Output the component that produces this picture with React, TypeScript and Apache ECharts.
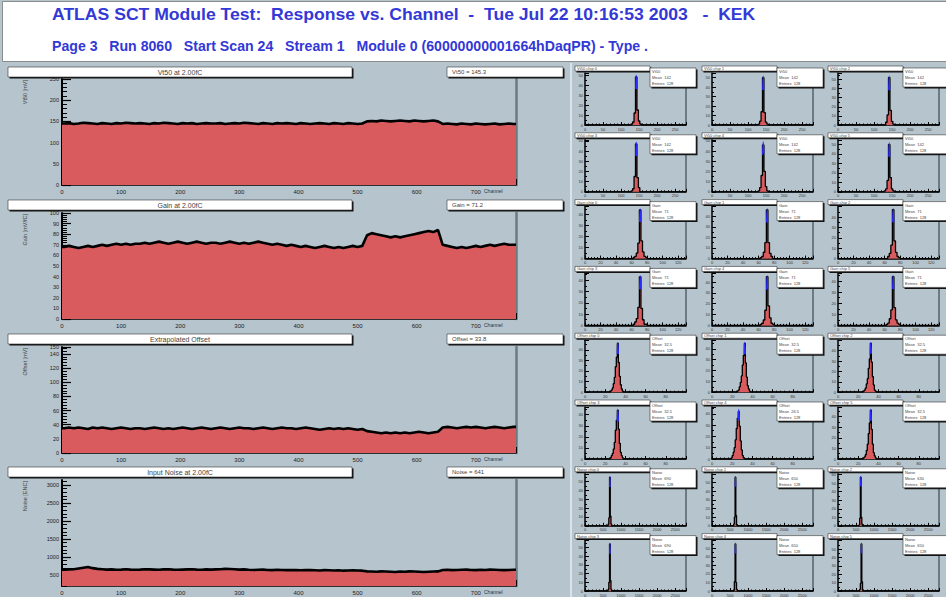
import React, { useEffect, useRef } from 'react';
import * as echarts from 'echarts';

// ---------------- data ----------------
const channelStep = 8; // each value covers 8 channels
const totalChannels = 768;

const vt50Values = [
  145,146,144,145,147,146,145,144,146,145,144,146,145,147,146,145,
  146,145,144,146,145,147,146,145,144,146,145,146,144,145,146,145,
  145,146,144,145,146,145,147,146,145,144,146,145,144,146,145,146,
  145,144,146,145,144,145,146,145,144,146,145,144,146,145,144,145,
  150,151,150,152,151,150,151,152,151,150,152,151,150,151,152,150,
  144,145,144,143,145,144,143,145,144,143,144,145,143,144,145,144,
];
const gainValues = [
  68,69,68,67,68,69,68,69,70,69,70,71,70,71,70,71,
  71,72,71,72,73,72,71,72,73,72,71,72,73,72,71,72,
  72,71,72,73,72,71,72,71,72,73,72,71,70,71,70,69,
  70,69,68,69,68,67,68,69,68,67,68,67,68,69,68,69,
  79,81,80,79,78,77,78,77,78,79,80,81,82,83,82,84,
  70,69,68,67,68,67,68,69,68,69,70,69,70,71,70,70,
];
const offsetValues = [
  35,36,35,36,35,34,36,35,36,35,34,35,36,35,34,35,
  35,34,35,36,35,34,35,34,35,36,35,34,35,36,35,34,
  35,36,35,34,35,36,35,35,34,35,36,35,34,35,36,35,
  35,34,35,36,35,34,33,34,35,34,35,34,35,34,33,34,
  31,30,29,28,29,28,29,28,29,28,29,30,29,28,29,30,
  36,37,36,35,36,37,36,37,36,35,36,37,36,35,36,37,
];
const noiseValues = [
  650,655,660,680,700,720,690,670,660,650,655,645,650,660,650,645,
  650,660,655,650,645,655,660,650,645,650,655,660,650,645,655,650,
  655,660,670,665,660,650,655,645,640,645,650,640,635,645,640,635,
  640,635,630,640,635,630,625,635,630,625,630,620,625,630,625,620,
  600,595,590,600,595,590,585,595,590,600,595,590,585,590,595,600,
  640,645,635,640,645,650,640,635,645,640,650,645,640,635,640,645,
];
const noiseTickLabels = [500, 1000, 1500, 2000, 2500, 3000];

// per-chip distributions (small panels)
const vt50HistStart = [124, 124, 124, 124, 124, 124];
const vt50Hist = [
  [0,1,3,12,48,15,4,1,0],
  [0,1,4,14,50,13,3,1,0],
  [0,0,3,11,52,16,4,1,0],
  [0,1,3,15,47,14,4,0,0],
  [0,1,4,16,46,20,5,1,0],
  [0,1,3,12,50,15,3,1,0],
];
const vt50Fit = [
  [[140.6,36],[142,50],[143.4,36]],
  [[140.6,37],[142,52],[143.4,37]],
  [[140.6,38],[142,54],[143.4,38]],
  [[140.6,35],[142,49],[143.4,35]],
  [[140.4,36],[142,49],[143.6,38]],
  [[140.6,37],[142,52],[143.4,37]],
];
const gainHistStart = [60, 60, 60, 60, 60, 60];
const gainHist = [
  [0,1,2,5,14,44,16,6,2,1,0],
  [0,1,2,6,15,46,15,5,2,0,0],
  [0,0,2,5,13,47,17,6,2,1,0],
  [0,1,3,6,16,43,15,5,1,1,0],
  [0,1,2,5,14,45,18,7,2,1,0],
  [0,1,2,6,14,44,16,5,2,1,0],
];
const gainFit = [
  [[70.3,33],[71,45],[71.7,33]],
  [[70.3,34],[71,47],[71.7,34]],
  [[70.3,35],[71,48],[71.7,35]],
  [[70.3,32],[71,44],[71.7,32]],
  [[70.3,33],[71,46],[71.7,34]],
  [[70.3,33],[71,45],[71.7,33]],
];
const offsetHistStart = [24, 24, 24, 24, 18, 24];
const offsetHist = [
  [0,1,2,4,8,14,24,33,46,28,15,7,3,1,0],
  [0,1,2,5,9,15,25,34,45,27,14,6,3,1,0],
  [0,1,2,4,8,13,23,32,47,29,15,7,2,1,0],
  [0,1,3,5,9,15,26,35,44,27,14,6,3,1,0],
  [0,1,3,6,10,17,27,36,42,29,16,8,3,1,0],
  [0,1,2,4,8,14,24,34,46,28,14,6,3,1,0],
];
const offsetFit = [
  [[31.9,36],[32.5,47],[33.1,36]],
  [[31.9,35],[32.5,46],[33.1,35]],
  [[31.9,37],[32.5,48],[33.1,37]],
  [[31.9,34],[32.5,45],[33.1,34]],
  [[25.9,34],[26.5,44],[27.1,34]],
  [[31.9,36],[32.5,47],[33.1,36]],
];
const noiseHistStart = [620, 580, 560, 620, 580, 580];
const noiseHist = [
  [0,2,9,55,11,2,0],
  [0,2,10,56,12,1,0],
  [0,1,9,57,10,2,0],
  [0,2,10,54,12,2,0],
  [0,1,11,55,10,2,0],
  [0,2,9,56,11,1,0],
];
const noiseFit = [
  [[684,44],[690,56],[696,44]],
  [[644,45],[650,57],[656,45]],
  [[624,46],[630,58],[636,46]],
  [[684,43],[690,55],[696,43]],
  [[644,44],[650,56],[656,44]],
  [[644,45],[650,57],[656,45]],
];

// ---------------- layout / style ----------------
const FONT = 'Liberation Sans, Arial, sans-serif';
const BG = '#b5c4cd';
const RED = '#d95b5e';
const TITLE_BLUE = '#3338d6';

const headerLine1 = 'ATLAS SCT Module Test:  Response vs. Channel  -  Tue Jul 22 10:16:53 2003   -  KEK';
const headerLine2 = 'Page 3   Run 8060   Start Scan 24   Stream 1   Module 0 (60000000001664hDaqPR) - Type .';

const bigTops = [79, 213, 347, 480];
const bigBoxY = [67, 200, 334, 467];
const smallLefts = [585, 712, 838];
const smallTop0 = 73;
const smallPitch = 66.8;

const bigPanels = [
  { title: 'Vt50 at 2.00fC', stat: 'Vt50 = 145.3', yName: 'Vt50 [mV]', values: vt50Values, min: 0, max: 250, interval: 50 },
  { title: 'Gain at 2.00fC', stat: 'Gain = 71.2', yName: 'Gain [mV/fC]', values: gainValues, min: 0, max: 100, interval: 10 },
  { title: 'Extrapolated Offset', stat: 'Offset = 33.8', yName: 'Offset [mV]', values: offsetValues, min: 0, max: 150, interval: 20 },
  { title: 'Input Noise at 2.00fC', stat: 'Noise = 641', yName: 'Noise [ENC]', values: noiseValues, min: 194, max: 3140, interval: 0 },
];

const smallGroups = [
  { name: 'Vt50', start: vt50HistStart, hist: vt50Hist, fit: vt50Fit, bin: 4, min: 0, max: 280, interval: 50 },
  { name: 'Gain', start: gainHistStart, hist: gainHist, fit: gainFit, bin: 2, min: 0, max: 130, interval: 20 },
  { name: 'Offset', start: offsetHistStart, hist: offsetHist, fit: offsetFit, bin: 1, min: 0, max: 100, interval: 20 },
  { name: 'Noise', start: noiseHistStart, hist: noiseHist, fit: noiseFit, bin: 20, min: 0, max: 2800, interval: 500 },
];

const plain = (v: number) => String(v);

function paveBox(x: number, y: number, w: number, h: number, z = 20) {
  return [
    { type: 'rect', z, shape: { x: x + 1.5, y: y + 1.5, width: w, height: h }, style: { fill: '#111' } },
    { type: 'rect', z: z + 1, shape: { x, y, width: w, height: h }, style: { fill: '#fff', stroke: '#333', lineWidth: 0.6 } },
  ];
}

function buildOption() {
  const grid: any[] = [];
  const xAxis: any[] = [];
  const yAxis: any[] = [];
  const series: any[] = [];
  const graphic: any[] = [];

  // background
  graphic.push({ type: 'rect', z: -10, silent: true, shape: { x: 0, y: 0, width: 946, height: 597 }, style: { fill: BG } });
  graphic.push({ type: 'rect', z: -9, silent: true, shape: { x: 2.5, y: 1.5, width: 950, height: 60 }, style: { fill: '#fff', stroke: '#8c8c8c', lineWidth: 1 } });
  graphic.push({ type: 'line', z: -8, silent: true, shape: { x1: 571, y1: 63, x2: 571, y2: 597 }, style: { stroke: '#dbe3e8', lineWidth: 2 } });

  // header
  graphic.push({ type: 'text', z: 30, x: 52, y: 14.5, scaleX: 1.1, style: { text: headerLine1, fill: TITLE_BLUE, font: `bold 16px ${FONT}`, verticalAlign: 'middle' } });
  graphic.push({ type: 'text', z: 30, x: 52, y: 46, scaleX: 0.975, style: { text: headerLine2, fill: TITLE_BLUE, font: `bold 14.5px ${FONT}`, verticalAlign: 'middle' } });

  // big panels
  bigPanels.forEach((p, i) => {
    const g = grid.length;
    grid.push({ left: 62, top: bigTops[i], width: 454, height: 106 });
    xAxis.push({
      gridIndex: g, type: 'value', min: 0, max: totalChannels, interval: 100,
      axisLine: { lineStyle: { color: '#000', width: 1.5 } },
      axisTick: { inside: true, length: 6, lineStyle: { color: '#000' } },
      minorTick: { show: true, splitNumber: 5, length: 3, lineStyle: { color: '#000' } },
      axisLabel: { fontSize: 6, color: '#222', margin: 4, showMaxLabel: false, fontFamily: FONT, formatter: plain },
      splitLine: { show: false },
    });
    const yMain = yAxis.length;
    if (p.interval > 0) {
      yAxis.push({
        gridIndex: g, type: 'value', position: 'left', min: p.min, max: p.max, interval: p.interval,
        axisLine: { show: true, lineStyle: { color: '#000', width: 2 } },
        axisTick: { show: true, inside: true, length: 9, lineStyle: { color: '#000', width: 1.2 } },
        minorTick: { show: true, splitNumber: 5, length: 5, lineStyle: { color: '#000' } },
        axisLabel: { fontSize: 5.5, color: '#222', margin: 3, fontFamily: FONT, formatter: plain },
        splitLine: { show: false },
      });
    } else {
      yAxis.push({
        gridIndex: g, type: 'value', position: 'left', min: p.min, max: p.max,
        axisLine: { show: true, lineStyle: { color: '#000', width: 2 } },
        axisTick: { show: true, inside: true, length: 9, customValues: noiseTickLabels, lineStyle: { color: '#000', width: 1.2 } },
        axisLabel: { fontSize: 5.5, color: '#222', margin: 3, fontFamily: FONT, customValues: noiseTickLabels, formatter: plain },
        splitLine: { show: false },
      });
      const minor: number[] = [];
      for (let v = 200; v <= 3100; v += 100) if (v % 500 !== 0) minor.push(v);
      yAxis.push({
        gridIndex: g, type: 'value', position: 'left', min: p.min, max: p.max,
        axisLine: { show: false },
        axisTick: { show: true, inside: true, length: 5, customValues: minor, lineStyle: { color: '#000' } },
        axisLabel: { show: false },
        splitLine: { show: false },
      });
    }
    yAxis.push({
      gridIndex: g, type: 'value', position: 'right', min: p.min, max: p.max,
      axisLine: { show: true, lineStyle: { color: '#6d7a83', width: 2.5 } },
      axisTick: { show: false }, axisLabel: { show: false }, splitLine: { show: false },
    });
    const data: number[][] = p.values.map((v, k) => [k * channelStep + channelStep / 2, v]);
    data.unshift([0, p.values[0]]);
    data.push([totalChannels, p.values[p.values.length - 1]]);
    series.push({
      type: 'line', xAxisIndex: g, yAxisIndex: yMain, data, symbol: 'none', silent: true,
      lineStyle: { color: '#000', width: 2.6 },
      areaStyle: { color: RED, opacity: 1, origin: 'start' },
    });

    // boxes & names
    graphic.push(...paveBox(8, bigBoxY[i], 344, 10));
    graphic.push({ type: 'text', z: 25, x: 180, y: bigBoxY[i] + 5, style: { text: p.title, fill: '#444', font: `7px ${FONT}`, align: 'center', verticalAlign: 'middle' } });
    graphic.push(...paveBox(447, bigBoxY[i], 116, 10));
    graphic.push({ type: 'text', z: 25, x: 452, y: bigBoxY[i] + 5, style: { text: p.stat, fill: '#444', font: `6px ${FONT}`, verticalAlign: 'middle' } });
    graphic.push({ type: 'text', z: 25, x: 25, y: bigTops[i] + 1, rotation: Math.PI / 2, style: { text: p.yName, fill: '#444', font: `5.5px ${FONT}`, align: 'right', verticalAlign: 'middle' } });
    graphic.push({ type: 'text', z: 25, x: 484, y: bigTops[i] + 106 + 3, style: { text: 'Channel', fill: '#333', font: `5px ${FONT}`, verticalAlign: 'top' } });
  });

  // small panels
  smallGroups.forEach((sg, q) => {
    for (let chip = 0; chip < 6; chip++) {
      const r = q * 2 + Math.floor(chip / 3);
      const c = chip % 3;
      const left = smallLefts[c];
      const top = smallTop0 + r * smallPitch;
      const g = grid.length;
      grid.push({ left, top, width: 101, height: 52 });
      xAxis.push({
        gridIndex: g, type: 'value', min: sg.min, max: sg.max, interval: sg.interval,
        axisLine: { lineStyle: { color: '#000', width: 1.5 } },
        axisTick: { inside: true, length: 3, lineStyle: { color: '#000' } },
        minorTick: { show: true, splitNumber: 5, length: 1.5, lineStyle: { color: '#000' } },
        axisLabel: { fontSize: 4, color: '#333', margin: 2, showMaxLabel: false, fontFamily: FONT, formatter: plain },
        splitLine: { show: false },
      });
      const yi = yAxis.length;
      yAxis.push({
        gridIndex: g, type: 'value', position: 'left', min: 0, max: (v: any) => Math.ceil(v.max * 1.04), splitNumber: 5,
        axisLine: { show: true, lineStyle: { color: '#000', width: 1.5 } },
        axisTick: { show: true, inside: true, length: 4, lineStyle: { color: '#000' } },
        minorTick: { show: true, splitNumber: 2, length: 2, lineStyle: { color: '#000' } },
        axisLabel: { fontSize: 4, color: '#333', margin: 2, showMaxLabel: false, fontFamily: FONT, formatter: plain },
        splitLine: { show: false },
      });
      yAxis.push({
        gridIndex: g, type: 'value', position: 'right', min: 0, max: (v: any) => Math.ceil(v.max * 1.04),
        axisLine: { show: true, lineStyle: { color: '#55626b', width: 1.5 } },
        axisTick: { show: false }, axisLabel: { show: false }, splitLine: { show: false },
      });
      const counts = sg.hist[chip];
      const st = sg.start[chip];
      const hd: number[][] = [[sg.min, 0]];
      counts.forEach((n, k) => hd.push([st + k * sg.bin, n]));
      hd.push([st + counts.length * sg.bin, 0]);
      hd.push([sg.max, 0]);
      series.push({
        type: 'line', step: 'end', xAxisIndex: g, yAxisIndex: yi, data: hd, symbol: 'none', silent: true,
        lineStyle: { color: '#000', width: 1.3 },
        areaStyle: { color: RED, opacity: 1 },
      });
      series.push({
        type: 'line', smooth: true, xAxisIndex: g, yAxisIndex: yi, data: sg.fit[chip], symbol: 'none', silent: true,
        lineStyle: { color: '#2a2cff', width: 1.2 },
      });
      // title & stats
      graphic.push(...paveBox(left - 10, top - 7, 75, 5, 20));
      graphic.push({ type: 'text', z: 25, x: left - 8, y: top - 4.5, style: { text: `${sg.name} chip ${chip}`, fill: '#444', font: `4px ${FONT}`, verticalAlign: 'middle' } });
      graphic.push(...paveBox(left + 65, top - 5, 46, 19, 22));
      const mean = sg.fit[chip][1][0];
      graphic.push({ type: 'text', z: 26, x: left + 67, y: top - 1.5, style: { text: `${sg.name}`, fill: '#444', font: `4px ${FONT}`, verticalAlign: 'middle' } });
      graphic.push({ type: 'text', z: 26, x: left + 67, y: top + 4.5, style: { text: `Mean  ${mean}`, fill: '#444', font: `4px ${FONT}`, verticalAlign: 'middle' } });
      graphic.push({ type: 'text', z: 26, x: left + 67, y: top + 10.5, style: { text: `Entries  128`, fill: '#444', font: `4px ${FONT}`, verticalAlign: 'middle' } });
    }
  });

  return { animation: false, backgroundColor: BG, grid, xAxis, yAxis, series, graphic };
}

export default function App() {
  const ref = useRef<HTMLDivElement>(null);
  useEffect(() => {
    const chart = echarts.init(ref.current!, null, { renderer: 'svg' });
    chart.setOption(buildOption() as any);
    return () => chart.dispose();
  }, []);
  return <div ref={ref} style={{ position: 'absolute', left: 0, top: 0, width: 946, height: 597 }} />;
}
